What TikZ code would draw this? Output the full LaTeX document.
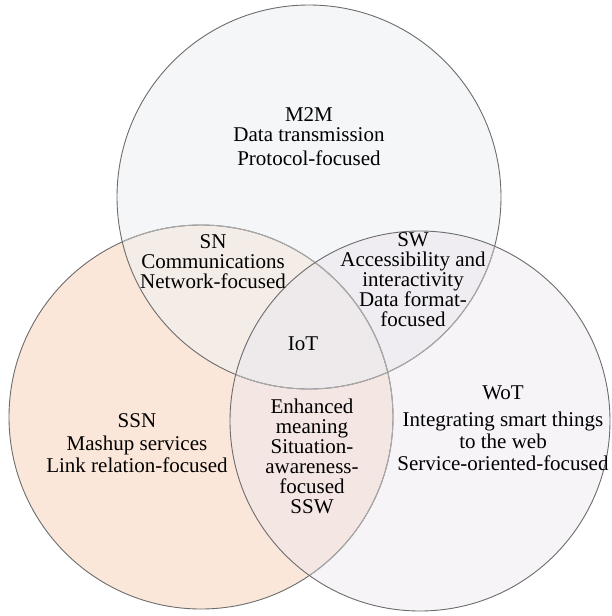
\documentclass[tikz,border=0pt]{standalone}
\usepackage{fontspec}
\setmainfont{Liberation Serif}
\definecolor{topc}{HTML}{F5F6F8}
\definecolor{leftc}{HTML}{FBE7D9}
\definecolor{rightc}{HTML}{F6F4F7}
\definecolor{snc}{HTML}{F4ECE6}
\definecolor{swc}{HTML}{EFEDF1}
\definecolor{sswc}{HTML}{F4E6E3}
\definecolor{iotc}{HTML}{EEE9EA}
\definecolor{edge}{HTML}{6C6C6C}
\definecolor{edgelight}{HTML}{ABABAB}
\begin{document}
\begin{tikzpicture}[x=1pt,y=-1pt,
  outline/.style={line width=0.9pt, draw=edge},
  faint/.style={line width=0.9pt, draw=edgelight},
  lbl/.style={align=center, inner sep=0pt, text=black,
    font=\fontsize{21}{20}\selectfont}]
\useasboundingbox (0,0) rectangle (611,616);
\def\topcircle{(309,197) circle [radius=192pt]}
\def\leftcircle{(201,417) circle [radius=192pt]}
\def\rightcircle{(420,421) circle [radius=190pt]}
% single-set regions
\fill[leftc] \leftcircle;
\fill[topc] \topcircle;
\fill[rightc] \rightcircle;
% pairwise overlaps
\begin{scope}
  \clip \topcircle;
  \fill[snc] \leftcircle;
  \fill[swc] \rightcircle;
\end{scope}
\begin{scope}
  \clip \leftcircle;
  \fill[sswc] \rightcircle;
\end{scope}
% triple overlap
\begin{scope}
  \clip \topcircle;
  \clip \leftcircle;
  \fill[iotc] \rightcircle;
\end{scope}
% outlines: arcs lying under a later circle are lighter
\draw[outline] \leftcircle;
\begin{scope}
  \clip \topcircle;
  \draw[faint] \leftcircle;
\end{scope}
\begin{scope}
  \clip \rightcircle;
  \draw[faint] \leftcircle;
\end{scope}
\draw[outline] \topcircle;
\begin{scope}
  \clip \rightcircle;
  \draw[faint] \topcircle;
\end{scope}
\draw[outline] \rightcircle;
% labels
\node[lbl] (m2m) at (309,137) {M2M\\Data transmission\\[4pt]Protocol-focused};
\node[lbl] (sn) at (213,262) {SN\\Communications\\Network-focused};
\node[lbl] (sw) at (413,280) {SW\\Accessibility and\\interactivity\\Data format-\\focused};
\node[lbl] (iot) at (303,344) {IoT};
\node[lbl] (ssn) at (137,443) {SSN\\[3pt]Mashup services\\[2pt]Link relation-focused};
\node[lbl] (ssw) at (312,456) {Enhanced\\meaning\\Situation-\\awareness-\\focused\\SSW};
\node[lbl] (wot) at (503,428) {WoT\\[7pt]Integrating smart things\\[2pt]to the web\\[2pt]Service-oriented-focused};
\end{tikzpicture}
\end{document}
